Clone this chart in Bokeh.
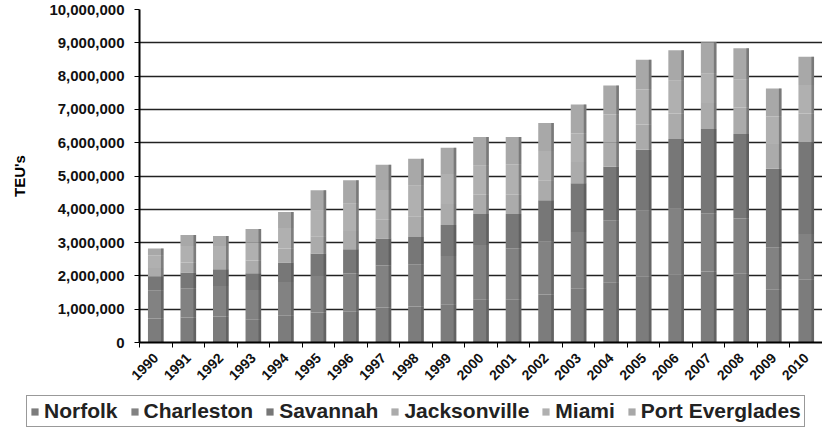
from math import pi
from bokeh.plotting import figure
from bokeh.layouts import column, row
from bokeh.models import (ColumnDataSource, FixedTicker, NumeralTickFormatter,
                          Legend, LegendItem, Range1d)
from bokeh.embed import file_html
from bokeh.resources import INLINE

years = ["1990", "1991", "1992", "1993", "1994", "1995", "1996", "1997", "1998", "1999",
         "2000", "2001", "2002", "2003", "2004", "2005", "2006", "2007", "2008", "2009", "2010"]

norfolk = [720000, 750000, 780000, 700000, 800000, 900000, 920000, 1050000, 1080000, 1150000,
           1300000, 1300000, 1440000, 1630000, 1810000, 1980000, 2050000, 2130000, 2080000, 1600000, 1900000]
charleston = [850000, 880000, 920000, 880000, 1020000, 1100000, 1150000, 1260000, 1270000, 1450000,
              1630000, 1530000, 1590000, 1690000, 1860000, 1990000, 1970000, 1750000, 1640000, 1260000, 1360000]
savannah = [420000, 470000, 500000, 500000, 580000, 670000, 730000, 810000, 820000, 930000,
            930000, 1030000, 1240000, 1460000, 1610000, 1820000, 2090000, 2530000, 2540000, 2360000, 2760000]
jacksonville = [250000, 300000, 280000, 380000, 420000, 520000, 550000, 580000, 620000, 630000,
                580000, 580000, 600000, 640000, 720000, 760000, 770000, 780000, 800000, 760000, 860000]
miami = [380000, 500000, 420000, 550000, 620000, 780000, 820000, 880000, 920000, 900000,
         870000, 910000, 880000, 860000, 850000, 1050000, 980000, 880000, 830000, 810000, 850000]
port_everglades = [200000, 330000, 300000, 400000, 480000, 600000, 700000, 760000, 810000, 790000,
                   860000, 820000, 840000, 870000, 870000, 890000, 920000, 950000, 950000, 840000, 850000]

series_names = ["Norfolk", "Charleston", "Savannah", "Jacksonville", "Miami", "Port Everglades"]
series_keys = ["norfolk", "charleston", "savannah", "jacksonville", "miami", "port_everglades"]
colors = ["#7c7c7c", "#828282", "#777777", "#ababab", "#b0b0b0", "#a8a8a8"]
y_ticks = [0, 1000000, 2000000, 3000000, 4000000, 5000000, 6000000, 7000000, 8000000, 9000000, 10000000]

xpos = [i + 0.5 for i in range(len(years))]
totals = [a + b + c + d + e + f for a, b, c, d, e, f in
          zip(norfolk, charleston, savannah, jacksonville, miami, port_everglades)]
source = ColumnDataSource(dict(x=xpos, shade_x=[v + 0.2 for v in xpos], total=totals,
                               norfolk=norfolk, charleston=charleston, savannah=savannah,
                               jacksonville=jacksonville, miami=miami,
                               port_everglades=port_everglades))

FONT = "Liberation Sans"

p = figure(width=822, height=391, output_backend="svg", toolbar_location=None,
           x_range=Range1d(0, len(years)), y_range=Range1d(0, 10000000),
           min_border_left=139, min_border_right=0, min_border_top=9, min_border_bottom=49)
p.outline_line_color = None
p.background_fill_color = "white"
p.border_fill_color = "white"

renderers = p.vbar_stack(series_keys, x="x", width=0.48, color=colors, source=source,
                         line_color=None)
# darker right-hand shading of the columns (3D look)
p.vbar(x="shade_x", top="total", width=0.08, source=source,
       color="#4a4a4a", alpha=0.5, line_color=None)

# grid
p.xgrid.visible = False
p.ygrid.ticker = FixedTicker(ticks=y_ticks)
p.ygrid.grid_line_color = "#222222"
p.ygrid.grid_line_width = 1.5
p.ygrid.level = "underlay"

# y axis
p.yaxis.ticker = FixedTicker(ticks=y_ticks)
p.yaxis.formatter = NumeralTickFormatter(format="0,0")
p.yaxis.axis_label = "TEU's"
p.yaxis.axis_label_text_font = FONT
p.yaxis.axis_label_text_font_style = "bold"
p.yaxis.axis_label_text_font_size = "15px"
p.yaxis.axis_label_text_color = "black"
p.yaxis.axis_label_standoff = 18
p.yaxis.major_label_text_font = FONT
p.yaxis.major_label_text_font_style = "bold"
p.yaxis.major_label_text_font_size = "15px"
p.yaxis.major_label_text_color = "#111111"
p.yaxis.major_label_standoff = 10
p.yaxis.major_tick_out = 5
p.yaxis.major_tick_in = 0
p.yaxis.minor_tick_line_color = None
p.yaxis.axis_line_width = 2
p.yaxis.axis_line_color = "black"
p.yaxis.major_tick_line_color = "black"

# x axis
boundaries = [i for i in range(len(years) + 1)]
p.xaxis.ticker = FixedTicker(ticks=xpos, minor_ticks=boundaries)
p.xaxis.major_label_overrides = {xv: yr for xv, yr in zip(xpos, years)}
p.xaxis.major_label_orientation = pi / 4
p.xaxis.major_label_text_font = FONT
p.xaxis.major_label_text_font_style = "bold"
p.xaxis.major_label_text_font_size = "14px"
p.xaxis.major_label_text_color = "#111111"
p.xaxis.major_tick_line_color = None
p.xaxis.minor_tick_line_color = "black"
p.xaxis.minor_tick_out = 5
p.xaxis.minor_tick_in = 0
p.xaxis.major_label_standoff = 7
p.xaxis.axis_line_width = 2
p.xaxis.axis_line_color = "black"

# legend in its own strip below the chart (its bars lie far outside its visible ranges)
lg = figure(width=822, height=36, output_backend="svg", toolbar_location=None,
            x_axis_location=None, y_axis_location=None,
            x_range=Range1d(-1000, -999), y_range=Range1d(-20000000, -10000000),
            min_border_left=0, min_border_right=0, min_border_top=0, min_border_bottom=0)
lg.outline_line_color = None
lg.xgrid.visible = False
lg.ygrid.visible = False
lg_renderers = lg.vbar_stack(series_keys, x="x", width=0.48, fill_color=colors,
                             line_color=None, source=source)
items = [LegendItem(label=name, renderers=[r]) for name, r in zip(series_names, lg_renderers)]
legend = Legend(items=items, orientation="horizontal", location=(26, 0))
legend.label_text_font = FONT
legend.label_text_font_style = "bold"
legend.label_text_font_size = "21px"
legend.label_text_color = "#222222"
legend.glyph_width = 9
legend.glyph_height = 9
legend.label_standoff = 5
legend.spacing = 12
legend.padding = 3
legend.margin = 0
legend.border_line_color = "#333333"
legend.border_line_width = 1.5
legend.background_fill_color = "white"
legend.background_fill_alpha = 1.0
lg.add_layout(legend, "center")

open("out.html", "w").write(file_html(column(p, row(lg), spacing=0), INLINE))
